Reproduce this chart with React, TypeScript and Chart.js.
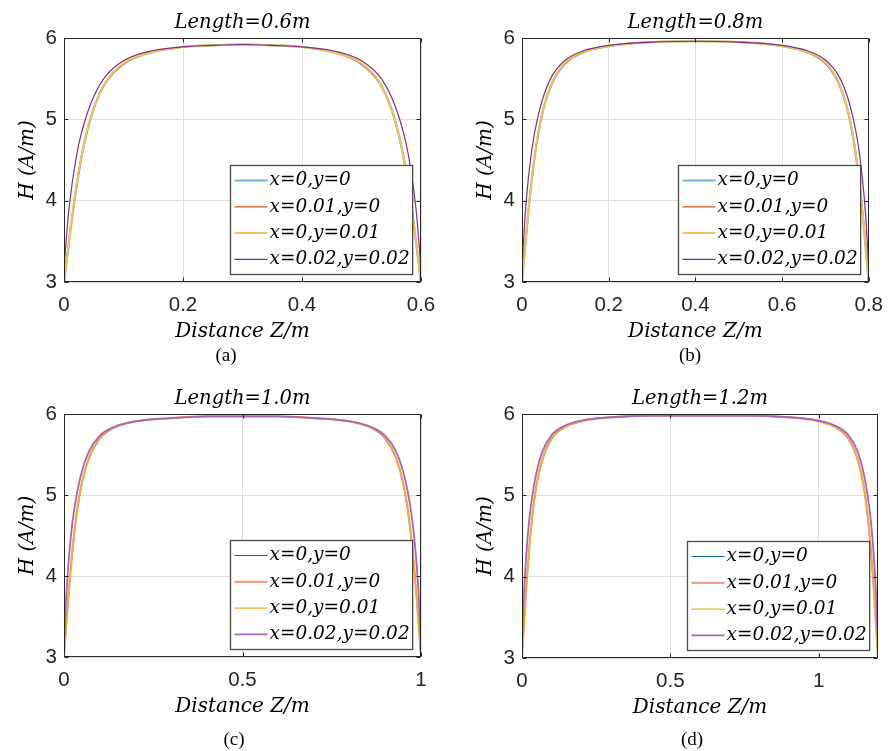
import React, { useEffect, useRef } from 'react';
import { Chart, registerables } from 'chart.js';

Chart.register(...registerables);

// ---------------- data ----------------
const LEGEND_LABELS = ['x=0,y=0', 'x=0.01,y=0', 'x=0,y=0.01', 'x=0.02,y=0.02'];
const Y_TICKS = [3, 4, 5, 6];

// (a) Length = 0.6 m
const zA = [0, 0.003, 0.007, 0.012, 0.018, 0.025, 0.035, 0.05, 0.07, 0.1, 0.14, 0.2, 0.25, 0.3, 0.35, 0.4, 0.46, 0.5, 0.53, 0.55, 0.565, 0.575, 0.582, 0.588, 0.593, 0.597, 0.6];
const aH00 = [2.99, 3.17, 3.41, 3.70, 4.02, 4.35, 4.73, 5.13, 5.45, 5.68, 5.81, 5.89, 5.91, 5.92, 5.91, 5.89, 5.81, 5.68, 5.45, 5.13, 4.73, 4.35, 4.02, 3.70, 3.41, 3.17, 2.99];
const aH10 = [3.00, 3.18, 3.42, 3.72, 4.04, 4.37, 4.75, 5.14, 5.46, 5.68, 5.81, 5.89, 5.91, 5.92, 5.91, 5.89, 5.81, 5.68, 5.46, 5.14, 4.75, 4.37, 4.04, 3.72, 3.42, 3.18, 3.00];
const aH01 = [3.00, 3.18, 3.42, 3.72, 4.04, 4.37, 4.75, 5.14, 5.46, 5.69, 5.81, 5.89, 5.91, 5.92, 5.91, 5.89, 5.81, 5.69, 5.46, 5.14, 4.75, 4.37, 4.04, 3.72, 3.42, 3.18, 3.00];
const aH22 = [3.15, 3.45, 3.80, 4.12, 4.42, 4.70, 4.98, 5.28, 5.53, 5.72, 5.83, 5.89, 5.91, 5.92, 5.91, 5.89, 5.83, 5.72, 5.53, 5.28, 4.98, 4.70, 4.42, 4.12, 3.80, 3.45, 3.15];
const xTicksA = [0, 0.2, 0.4, 0.6];

// (b) Length = 0.8 m
const zB = [0, 0.003, 0.007, 0.012, 0.018, 0.025, 0.035, 0.05, 0.07, 0.1, 0.14, 0.2, 0.3, 0.4, 0.5, 0.6, 0.66, 0.7, 0.73, 0.75, 0.765, 0.775, 0.782, 0.788, 0.793, 0.797, 0.8];
const bH00 = [2.99, 3.18, 3.42, 3.71, 4.03, 4.36, 4.74, 5.14, 5.45, 5.69, 5.82, 5.90, 5.95, 5.96, 5.95, 5.90, 5.82, 5.69, 5.45, 5.14, 4.74, 4.36, 4.03, 3.71, 3.42, 3.18, 2.99];
const bH10 = [3.00, 3.19, 3.43, 3.73, 4.05, 4.38, 4.76, 5.15, 5.46, 5.69, 5.82, 5.90, 5.95, 5.96, 5.95, 5.90, 5.82, 5.69, 5.46, 5.15, 4.76, 4.38, 4.05, 3.73, 3.43, 3.19, 3.00];
const bH01 = [3.00, 3.19, 3.43, 3.73, 4.05, 4.38, 4.76, 5.15, 5.46, 5.70, 5.82, 5.90, 5.95, 5.96, 5.95, 5.90, 5.82, 5.70, 5.46, 5.15, 4.76, 4.38, 4.05, 3.73, 3.43, 3.19, 3.00];
const bH22 = [3.16, 3.46, 3.81, 4.13, 4.43, 4.71, 4.99, 5.29, 5.54, 5.73, 5.84, 5.91, 5.95, 5.96, 5.95, 5.91, 5.84, 5.73, 5.54, 5.29, 4.99, 4.71, 4.43, 4.13, 3.81, 3.46, 3.16];
const xTicksB = [0, 0.2, 0.4, 0.6, 0.8];

// (c) Length = 1.0 m
const zC = [0, 0.003, 0.007, 0.012, 0.018, 0.025, 0.035, 0.05, 0.07, 0.1, 0.14, 0.2, 0.3, 0.4, 0.5, 0.6, 0.7, 0.8, 0.86, 0.9, 0.93, 0.95, 0.965, 0.975, 0.982, 0.988, 0.993, 0.997, 1.0];
const cH00 = [3.00, 3.18, 3.42, 3.71, 4.03, 4.36, 4.74, 5.14, 5.45, 5.69, 5.83, 5.91, 5.95, 5.97, 5.97, 5.97, 5.95, 5.91, 5.83, 5.69, 5.45, 5.14, 4.74, 4.36, 4.03, 3.71, 3.42, 3.18, 3.00];
const cH10 = [3.01, 3.19, 3.43, 3.73, 4.05, 4.38, 4.76, 5.15, 5.46, 5.70, 5.83, 5.91, 5.95, 5.97, 5.97, 5.97, 5.95, 5.91, 5.83, 5.70, 5.46, 5.15, 4.76, 4.38, 4.05, 3.73, 3.43, 3.19, 3.01];
const cH01 = [3.01, 3.19, 3.43, 3.73, 4.05, 4.38, 4.76, 5.15, 5.46, 5.70, 5.83, 5.91, 5.95, 5.97, 5.97, 5.97, 5.95, 5.91, 5.83, 5.70, 5.46, 5.15, 4.76, 4.38, 4.05, 3.73, 3.43, 3.19, 3.01];
const cH22 = [3.16, 3.46, 3.81, 4.13, 4.43, 4.71, 4.99, 5.29, 5.54, 5.73, 5.84, 5.91, 5.95, 5.97, 5.97, 5.97, 5.95, 5.91, 5.84, 5.73, 5.54, 5.29, 4.99, 4.71, 4.43, 4.13, 3.81, 3.46, 3.16];
const xTicksC = [0, 0.5, 1];

// (d) Length = 1.2 m
const zD = [0, 0.003, 0.007, 0.012, 0.018, 0.025, 0.035, 0.05, 0.07, 0.1, 0.14, 0.2, 0.3, 0.45, 0.6, 0.75, 0.9, 1.0, 1.06, 1.1, 1.13, 1.15, 1.165, 1.175, 1.182, 1.188, 1.193, 1.197, 1.2];
const dH00 = [3.00, 3.18, 3.42, 3.71, 4.03, 4.36, 4.74, 5.14, 5.45, 5.69, 5.83, 5.91, 5.96, 5.98, 5.98, 5.98, 5.96, 5.91, 5.83, 5.69, 5.45, 5.14, 4.74, 4.36, 4.03, 3.71, 3.42, 3.18, 3.00];
const dH10 = [3.01, 3.19, 3.43, 3.73, 4.05, 4.38, 4.76, 5.15, 5.46, 5.70, 5.83, 5.91, 5.96, 5.98, 5.98, 5.98, 5.96, 5.91, 5.83, 5.70, 5.46, 5.15, 4.76, 4.38, 4.05, 3.73, 3.43, 3.19, 3.01];
const dH01 = [3.01, 3.19, 3.43, 3.73, 4.05, 4.38, 4.76, 5.15, 5.46, 5.70, 5.83, 5.91, 5.96, 5.98, 5.98, 5.98, 5.96, 5.91, 5.83, 5.70, 5.46, 5.15, 4.76, 4.38, 4.05, 3.73, 3.43, 3.19, 3.01];
const dH22 = [3.17, 3.47, 3.82, 4.14, 4.44, 4.72, 5.00, 5.30, 5.55, 5.74, 5.85, 5.92, 5.96, 5.98, 5.98, 5.98, 5.96, 5.92, 5.85, 5.74, 5.55, 5.30, 5.00, 4.72, 4.44, 4.14, 3.82, 3.47, 3.17];
const xTicksD = [0, 0.5, 1];

// ---------------- styling / layout ----------------
const SERIF_IT = "'DejaVu Serif', serif";
const TICK_FONT = "'Liberation Sans', Arial, sans-serif";

const COLORS_TOP = ['#74B2DF', '#D95319', '#F0C25A', '#7E2F8E'];
const WIDTHS_TOP = [2.2, 1.2, 2.0, 1.2];
const COLORS_BOT = ['#1565A8', '#EFA287', '#EDB120', '#A866B8'];
const WIDTHS_BOT = [1.2, 2.2, 1.2, 1.8];

type PanelCfg = {
  title: string; caption: string; z: number[]; series: number[][]; xMax: number; xTicks: number[];
  left: number; top: number; plot: { l: number; t: number; r: number; b: number };
  colors: string[]; widths: number[]; capX: number; capY: number;
};

const PANELS: PanelCfg[] = [
  { title: 'Length=0.6m', caption: '(a)', z: zA, series: [aH00, aH10, aH01, aH22], xMax: 0.6, xTicks: xTicksA,
    left: 0, top: 0, plot: { l: 64, t: 38, r: 421, b: 282 }, colors: COLORS_TOP, widths: WIDTHS_TOP, capX: 226, capY: 355 },
  { title: 'Length=0.8m', caption: '(b)', z: zB, series: [bH00, bH10, bH01, bH22], xMax: 0.8, xTicks: xTicksB,
    left: 447, top: 0, plot: { l: 522, t: 38, r: 878, b: 282 }, colors: COLORS_TOP, widths: WIDTHS_TOP, capX: 690, capY: 355 },
  { title: 'Length=1.0m', caption: '(c)', z: zC, series: [cH00, cH10, cH01, cH22], xMax: 1.0, xTicks: xTicksC,
    left: 0, top: 376, plot: { l: 64, t: 414, r: 421, b: 657 }, colors: COLORS_BOT, widths: WIDTHS_BOT, capX: 234, capY: 739 },
  { title: 'Length=1.2m', caption: '(d)', z: zD, series: [dH00, dH10, dH01, dH22], xMax: 1.2, xTicks: xTicksD,
    left: 447, top: 376, plot: { l: 522, t: 414, r: 878, b: 658 }, colors: COLORS_BOT, widths: WIDTHS_BOT, capX: 692, capY: 739 },
];

const CW = 447;
const CH = 375;
const XH = 60;

const framePlugin = {
  id: 'matlabFrame',
  afterDraw(chart: any) {
    const { ctx, chartArea: a } = chart;
    const xs = chart.scales.x;
    const ys = chart.scales.y;
    ctx.save();
    ctx.strokeStyle = '#262626';
    ctx.lineWidth = 1;
    ctx.beginPath();
    const L = Math.round(a.left) + 0.5, R = Math.round(a.right) - 0.5;
    const T = Math.round(a.top) + 0.5, B = Math.round(a.bottom) - 0.5;
    ctx.rect(L, T, R - L, B - T);
    const tl = 4;
    xs.ticks.forEach((t: any) => {
      const px = Math.round(xs.getPixelForValue(t.value)) + 0.5;
      ctx.moveTo(px, B); ctx.lineTo(px, B - tl);
      ctx.moveTo(px, T); ctx.lineTo(px, T + tl);
    });
    ys.ticks.forEach((t: any) => {
      const py = Math.round(ys.getPixelForValue(t.value)) + 0.5;
      ctx.moveTo(L, py); ctx.lineTo(L + tl, py);
      ctx.moveTo(R, py); ctx.lineTo(R - tl, py);
    });
    ctx.stroke();

    // legend box (inside plot, bottom-right)
    ctx.font = `italic 18.5px ${SERIF_IT}`;
    const labels = chart.data.datasets.map((d: any) => d.label);
    const maxW = Math.max(...labels.map((s: string) => ctx.measureText(s).width));
    const bw = 39 + maxW + 3;
    const bh = 109;
    const bx = Math.round(a.right - 9 - bw) + 0.5;
    const by = Math.round(a.bottom - 8 - bh) + 0.5;
    ctx.fillStyle = '#ffffff';
    ctx.fillRect(bx, by, bw, bh);
    ctx.strokeStyle = '#4a4a4a';
    ctx.lineWidth = 1.3;
    ctx.strokeRect(bx, by, bw, bh);
    chart.data.datasets.forEach((d: any, i: number) => {
      const cy = by + 15 + i * 26.3;
      ctx.beginPath();
      ctx.strokeStyle = d.borderColor;
      ctx.lineWidth = d.borderWidth;
      ctx.moveTo(bx + 4, cy);
      ctx.lineTo(bx + 37, cy);
      ctx.stroke();
      ctx.fillStyle = '#000';
      ctx.textBaseline = 'middle';
      ctx.textAlign = 'left';
      ctx.fillText(d.label, bx + 39, cy);
    });
    ctx.restore();
  },
};

function Panel({ cfg }: { cfg: PanelCfg }) {
  const ref = useRef<HTMLCanvasElement>(null);
  useEffect(() => {
    const canvas = ref.current!;
    const plotL = cfg.plot.l - cfg.left;
    const plotR = cfg.plot.r - cfg.left;
    const plotT = cfg.plot.t - cfg.top;
    const plotB = cfg.plot.b - cfg.top;
    const titleLH = 23.4;
    const titlePadTop = 10.8;
    const titlePadBottom = plotT - titleLH - titlePadTop;
    const yTitleSize = 20;
    const yTitleOffset = plotL - 36;
    const n = cfg.series.length;
    const chart = new Chart(canvas, {
      type: 'line',
      data: {
        datasets: cfg.series.map((s, i) => ({
          label: LEGEND_LABELS[i],
          data: cfg.z.map((z, j) => ({ x: z, y: s[j] })),
          borderColor: cfg.colors[i],
          backgroundColor: cfg.colors[i],
          borderWidth: cfg.widths[i],
          pointRadius: 0,
          cubicInterpolationMode: 'monotone' as const,
          fill: false,
          order: n - 1 - i,
        })),
      },
      options: {
        responsive: false,
        animation: false,
        devicePixelRatio: 1,
        layout: { padding: { left: 0, right: CW - plotR, top: 0, bottom: CH - plotB - XH } },
        plugins: {
          legend: { display: false },
          tooltip: { enabled: false },
          title: {
            display: true,
            text: cfg.title,
            fullSize: false,
            color: '#000',
            font: { family: SERIF_IT, style: 'italic', size: 19.5, weight: 'normal', lineHeight: 1.2 },
            padding: { top: titlePadTop, bottom: titlePadBottom },
          },
        },
        scales: {
          x: {
            type: 'linear',
            min: 0,
            max: cfg.xMax,
            afterBuildTicks: (s: any) => { s.ticks = cfg.xTicks.map((v) => ({ value: v })); },
            afterFit: (s: any) => { s.height = XH; },
            grid: { color: '#dedede', drawTicks: false, lineWidth: 1 },
            border: { display: false },
            ticks: {
              padding: 11,
              color: '#262626',
              font: { family: TICK_FONT, size: 20.5, lineHeight: 1.2 },
              maxRotation: 0,
              autoSkip: false,
              callback: (v: any) => String(v),
            },
            title: {
              display: true,
              text: 'Distance Z/m',
              color: '#000',
              font: { family: SERIF_IT, style: 'italic', size: 20, lineHeight: 1 },
              padding: { top: 0, bottom: 0 },
            },
          },
          y: {
            type: 'linear',
            min: 3,
            max: 6,
            afterBuildTicks: (s: any) => { s.ticks = Y_TICKS.map((v) => ({ value: v })); },
            afterFit: (s: any) => { s.width = plotL; },
            grid: { color: '#dedede', drawTicks: false, lineWidth: 1 },
            border: { display: false },
            ticks: {
              padding: 7,
              color: '#262626',
              font: { family: TICK_FONT, size: 20.5, lineHeight: 1.2 },
              callback: (v: any) => String(v),
            },
            title: {
              display: true,
              text: 'H (A/m)',
              color: '#000',
              font: { family: SERIF_IT, style: 'italic', size: yTitleSize, lineHeight: 1 },
              padding: { top: yTitleOffset - yTitleSize / 2, bottom: 0 },
            },
          },
        },
      },
      plugins: [framePlugin],
    } as any);
    return () => chart.destroy();
  }, [cfg]);

  return (
    <>
      <canvas
        ref={ref}
        width={CW}
        height={CH}
        style={{ position: 'absolute', left: cfg.left, top: cfg.top, width: CW, height: CH }}
      />
      <div
        style={{
          position: 'absolute',
          left: cfg.capX - 30,
          top: cfg.capY - 12,
          width: 60,
          height: 24,
          lineHeight: '24px',
          textAlign: 'center',
          fontFamily: "'Liberation Serif', 'Times New Roman', serif",
          fontSize: 19,
          color: '#000',
        }}
      >
        {cfg.caption}
      </div>
    </>
  );
}

export default function App() {
  return (
    <div style={{ position: 'absolute', left: 0, top: 0, width: 894, height: 751, background: '#fff', overflow: 'hidden' }}>
      {PANELS.map((p) => (
        <Panel key={p.caption} cfg={p} />
      ))}
    </div>
  );
}
